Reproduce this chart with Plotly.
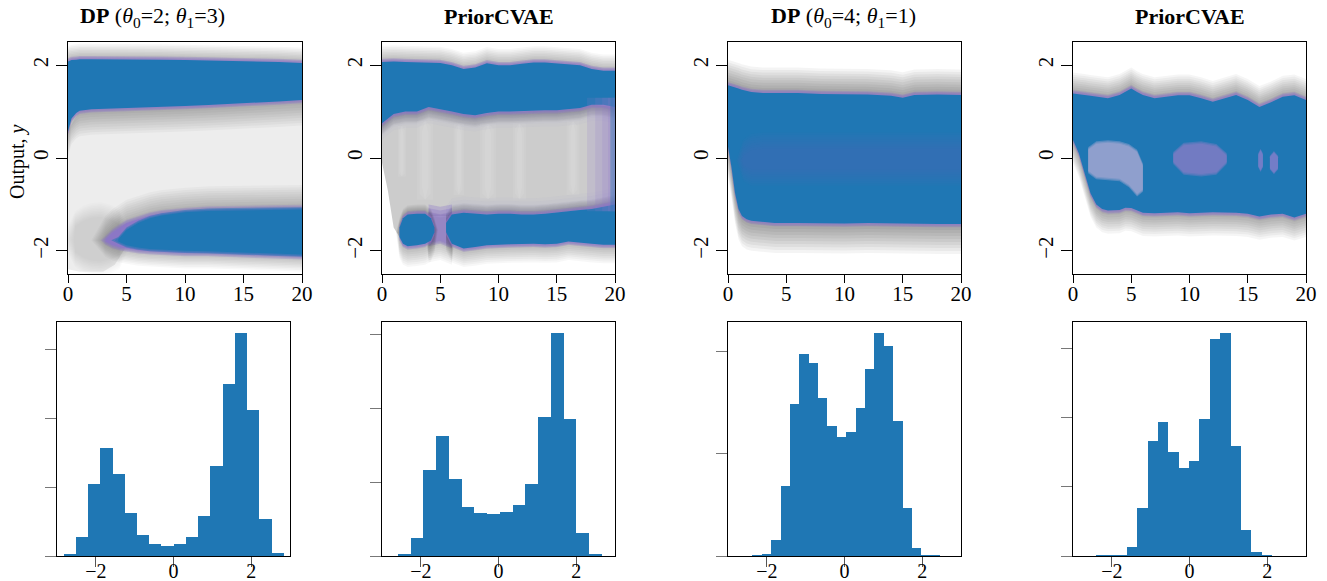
import numpy as np
import plotly.graph_objects as go

W, H = 1327, 581
OFF = 8  # the page body margin shifts the figure by this many pixels
BLUE = '#1f77b4'
FONT = 'Liberation Serif'

# ---------------- data ----------------
titles = ['<b>DP</b> (<i>θ</i><sub>0</sub>=2; <i>θ</i><sub>1</sub>=3)', '<b>PriorCVAE</b>',
          '<b>DP</b> (<i>θ</i><sub>0</sub>=4; <i>θ</i><sub>1</sub>=1)', '<b>PriorCVAE</b>']
top_xticks = [0, 5, 10, 15, 20]
top_yticks = [-2, 0, 2]
top_yticklabels = ['−2', '0', '2']
hist_xticks = [-2, 0, 2]
hist_xticklabels = ['−2', '0', '2']

# panel 1 (DP theta0=2, theta1=3)
p1_mid_x = [0, 1, 2, 3, 4, 5, 6, 8, 12, 16, 20]
p1_mid_hi = [0.6, 1.02, 1.08, 1.1, 1.1, 1.1, 1.1, 1.12, 1.15, 1.2, 1.25]
p1_mid_lo = [-2.4, -2.45, -2.45, -2.45, -2.3, -1.9, -1.5, -1.2, -1.1, -1.08, -1.08]
p1_ub_x = [0, 0.3, 0.7, 1, 2, 4, 6, 8, 10, 12, 14, 16, 18, 20]
p1_ub_hi = [2.08, 2.11, 2.12, 2.13, 2.13, 2.13, 2.13, 2.12, 2.11, 2.1, 2.1, 2.08, 2.07, 2.05]
p1_ub_lo = [0.57, 0.85, 0.97, 1.02, 1.05, 1.07, 1.08, 1.1, 1.12, 1.14, 1.16, 1.19, 1.22, 1.25]
p1_gb_x = [0.6, 1.3, 2.0, 2.8, 3.6, 4.4]
p1_gb_hi = [-1.5, -1.38, -1.32, -1.3, -1.35, -1.45]
p1_gb_lo = [-2.0, -2.12, -2.18, -2.2, -2.15, -2.05]
p1_lp_x = [3.2, 3.8, 4.5, 5, 6, 7, 8, 10, 12, 14, 16, 18, 20]
p1_lp_hi = [-1.75, -1.6, -1.48, -1.4, -1.32, -1.24, -1.19, -1.14, -1.11, -1.1, -1.09, -1.08, -1.08]
p1_lp_lo = [-1.8, -1.88, -1.93, -1.96, -1.99, -2.01, -2.03, -2.05, -2.05, -2.07, -2.08, -2.1, -2.12]
p1_lb_x = [4.3, 5, 6, 7, 8, 10, 12, 14, 16, 18, 20]
p1_lb_hi = [-1.75, -1.55, -1.4, -1.3, -1.24, -1.17, -1.14, -1.13, -1.12, -1.11, -1.11]
p1_lb_lo = [-1.8, -1.88, -1.93, -1.96, -1.98, -2.0, -2.01, -2.03, -2.04, -2.06, -2.08]

# panel 2 (PriorCVAE)
p2_mid_x = [0, 0.5, 1, 1.5, 2, 4, 6, 8, 10, 12, 14, 16, 18, 20]
p2_mid_hi = [0.75, 0.9, 0.97, 1.0, 1.0, 1.1, 1.0, 0.92, 1.0, 1.0, 1.03, 1.05, 1.15, 1.1]
p2_mid_lo = [-0.1, -0.7, -1.5, -1.7, -1.3, -1.25, -1.25, -1.2, -1.2, -1.22, -1.2, -1.15, -1.1, -1.0]
p2_streak_x = [1.7, 3.7, 6.6, 9.1, 11.8, 16.4]
p2_streak_w = [0.7, 1.4, 0.9, 1.4, 1.1, 1.1]
p2_streak_hi = [0.7, 0.8, 0.75, 0.75, 0.75, 0.8]
p2_streak_lo = [-0.4, -0.9, -0.8, -0.9, -0.9, -0.8]
p2_ub_x = [0, 1, 2, 3, 4, 5, 6, 7, 8, 9, 10, 11, 12, 13, 14, 15, 16, 17, 18, 19, 20]
p2_ub_hi = [2.07, 2.08, 2.07, 2.06, 2.06, 2.05, 2.0, 1.92, 1.95, 2.04, 2.0, 2.0, 2.03, 2.06, 2.06, 2.04, 2.02, 2.0, 1.92, 1.88, 1.88]
p2_ub_lo = [0.75, 0.95, 1.0, 1.0, 1.1, 1.05, 1.0, 0.95, 0.92, 0.97, 1.0, 1.0, 1.0, 1.02, 1.03, 1.03, 1.05, 1.08, 1.15, 1.15, 1.1]
p2_la_x = [1.5, 1.8, 2.2, 3, 3.7, 4.2, 4.5]
p2_la_hi = [-1.5, -1.3, -1.22, -1.2, -1.2, -1.3, -1.5]
p2_la_lo = [-1.7, -1.85, -1.9, -1.88, -1.85, -1.78, -1.6]
p2_gap_x = [4.0, 5.0, 6.0]
p2_gap_hi = [-1.25, -1.3, -1.25]
p2_gap_lo = [-1.8, -1.75, -1.85]
p2_lb_x = [5.5, 6, 7, 8, 9, 10, 11, 12, 13, 14, 15, 16, 17, 18, 19, 20]
p2_lb_hi = [-1.4, -1.22, -1.18, -1.2, -1.22, -1.2, -1.2, -1.22, -1.22, -1.2, -1.18, -1.15, -1.12, -1.1, -1.05, -1.0]
p2_lb_lo = [-1.6, -1.85, -1.95, -1.92, -1.88, -1.87, -1.86, -1.85, -1.85, -1.86, -1.85, -1.8, -1.82, -1.85, -1.87, -1.87]
p2_right_start = [17.6, 18.3, 18.9, 19.4, 19.8]
p2_right_hi = 1.3
p2_right_lo = -1.15

# panel 3 (DP theta0=4, theta1=1)
p3_b_x = [0, 0.3, 0.6, 0.9, 1.2, 1.6, 2, 3, 4, 6, 8, 10, 12, 14, 15, 16, 18, 20]
p3_b_hi = [1.57, 1.55, 1.52, 1.5, 1.47, 1.44, 1.42, 1.4, 1.4, 1.4, 1.38, 1.37, 1.37, 1.34, 1.3, 1.36, 1.37, 1.36]
p3_b_lo = [0.25, -0.2, -0.75, -1.1, -1.25, -1.32, -1.35, -1.38, -1.4, -1.4, -1.4, -1.41, -1.4, -1.4, -1.4, -1.41, -1.42, -1.42]
p3_mid_x = [1.3, 2, 3, 5, 8, 10, 12, 15, 18, 20]
p3_mid_hi = [0.0, 0.12, 0.15, 0.15, 0.15, 0.15, 0.15, 0.15, 0.15, 0.15]
p3_mid_lo = [-0.1, -0.2, -0.2, -0.2, -0.2, -0.2, -0.2, -0.2, -0.2, -0.2]

# panel 4 (PriorCVAE)
p4_b_x = [0, 0.5, 1, 1.5, 2, 2.5, 3, 4, 4.5, 5, 5.5, 6, 7, 8, 9, 10, 11, 12, 13, 14, 15, 16, 17, 18, 19, 20]
p4_b_hi = [1.39, 1.38, 1.36, 1.34, 1.32, 1.3, 1.29, 1.36, 1.43, 1.5, 1.42, 1.36, 1.29, 1.32, 1.35, 1.35, 1.29, 1.21, 1.28, 1.36, 1.25, 1.1, 1.2, 1.32, 1.35, 1.25]
p4_b_lo = [0.39, 0.1, -0.33, -0.76, -1.0, -1.1, -1.13, -1.12, -1.07, -1.08, -1.13, -1.18, -1.19, -1.18, -1.17, -1.19, -1.18, -1.17, -1.17, -1.18, -1.2, -1.26, -1.22, -1.2, -1.28, -1.2]
p4_ga_x = [1.3, 2, 3, 4, 4.8, 5.5, 6]
p4_ga_hi = [0.15, 0.28, 0.3, 0.28, 0.22, 0.1, -0.2]
p4_ga_lo = [-0.25, -0.38, -0.4, -0.42, -0.55, -0.75, -0.65]
p4_gb_x = [8.6, 9.5, 11, 12.3, 13.2]
p4_gb_hi = [0.05, 0.25, 0.28, 0.22, 0.02]
p4_gb_lo = [-0.05, -0.28, -0.32, -0.28, -0.05]
p4_gc_x = [15.9, 16.1, 16.3]
p4_gc_hi = [0.05, 0.15, 0.05]
p4_gc_lo = [-0.15, -0.25, -0.15]
p4_gd_x = [16.9, 17.25, 17.6]
p4_gd_hi = [0.0, 0.1, 0.0]
p4_gd_lo = [-0.2, -0.3, -0.2]

# histograms: bin range and relative heights (tick units)
h1_range = (-2.83, 2.84)
h1_counts = [0.02, 0.27, 1.05, 1.56, 1.19, 0.62, 0.30, 0.17, 0.14, 0.17, 0.27, 0.58, 1.31, 2.49, 3.23, 2.12, 0.53, 0.04]
h1_yticks = [0, 1, 2, 3]
h2_range = (-2.59, 2.66)
h2_counts = [0.018, 0.25, 1.16, 1.62, 1.04, 0.67, 0.58, 0.565, 0.59, 0.69, 0.98, 1.88, 3.02, 1.86, 0.31, 0.018]
h2_yticks = [0, 1, 2, 3]
h3_range = (-2.37, 2.46)
h3_counts = [0.007, 0.016, 0.154, 0.683, 1.493, 1.977, 1.889, 1.552, 1.278, 1.163, 1.212, 1.448, 1.830, 2.183, 2.056, 1.320, 0.467, 0.075, 0.007, 0.003]
h3_yticks = [0, 1, 2]
h4_range = (-2.406, 2.121)
h4_counts = [0.004, 0.004, 0.005, 0.125, 0.69, 1.656, 1.93, 1.497, 1.266, 1.367, 1.979, 3.13, 3.216, 1.584, 0.371, 0.053, 0.005]
h4_yticks = [0, 1, 2, 3]

# ---------------- drawing ----------------
fig = go.Figure()
PURPLE = '140,118,200'
GRAY = '0,0,0'


def ax(i):
    return ('x' if i == 1 else f'x{i}'), ('y' if i == 1 else f'y{i}')


def poly(i, x, lo, hi, color):
    xa, ya = ax(i)
    xs = list(x) + list(x)[::-1]
    ys = list(hi) + list(lo)[::-1]
    fig.add_trace(go.Scatter(x=xs, y=ys, fill='toself', fillcolor=color, mode='lines',
                             line=dict(width=0), hoverinfo='skip', showlegend=False,
                             xaxis=xa, yaxis=ya))


def soft(i, x, lo, hi, wlo, whi, rgb, a, n=10, xw=0.0):
    for k in range(n, 0, -1):
        f = k / n
        h = [v + whi * f for v in hi]
        l = [v - wlo * f for v in lo]
        xx = list(x)
        if xw > 0:
            m0 = (hi[0] + lo[0]) / 2
            m1 = (hi[-1] + lo[-1]) / 2
            xx = [x[0] - xw * f] + xx + [x[-1] + xw * f]
            h = [m0] + h + [m1]
            l = [m0] + l + [m1]
        poly(i, xx, l, h, f'rgba({rgb},{a})')


def band(i, x, lo, hi, wlo=0.4, whi=0.4, haze=0.033, fringe=0.07, plo=0.0, phi=0.0, pa=0.04, xw=0.0):
    soft(i, x, lo, hi, wlo, whi, GRAY, haze, xw=xw)
    if plo > 0 or phi > 0:
        soft(i, x, lo, hi, plo, phi, PURPLE, pa, n=5, xw=xw * 0.5)
    soft(i, x, lo, hi, fringe, fringe, PURPLE, 0.35, n=3)
    poly(i, x, lo, hi, BLUE)


# panel 1
poly(1, p1_mid_x, p1_mid_lo, p1_mid_hi, 'rgba(0,0,0,0.07)')
soft(1, p1_gb_x, p1_gb_lo, p1_gb_hi, 0.35, 0.35, GRAY, 0.012, xw=1.2)
band(1, p1_ub_x, p1_ub_lo, p1_ub_hi, wlo=0.55, whi=0.33, haze=0.03)
soft(1, p1_lp_x, p1_lp_lo, p1_lp_hi, 0.33, 0.5, GRAY, 0.028, xw=1.2)
soft(1, p1_lp_x, p1_lp_lo, p1_lp_hi, 0.07, 0.07, PURPLE, 0.3, n=3, xw=0.4)
poly(1, p1_lp_x, p1_lp_lo, p1_lp_hi, f'rgba({PURPLE},0.85)')
soft(1, p1_lb_x, p1_lb_lo, p1_lb_hi, 0.05, 0.05, '31,119,180', 0.5, n=2, xw=0.6)
poly(1, p1_lb_x, p1_lb_lo, p1_lb_hi, BLUE)

# panel 2
poly(2, p2_mid_x, p2_mid_lo, p2_mid_hi, 'rgba(0,0,0,0.2)')
for sx, sw, sh, sl in zip(p2_streak_x, p2_streak_w, p2_streak_hi, p2_streak_lo):
    for f in (1.0, 0.7, 0.4):
        poly(2, [sx - sw * f / 2, sx, sx + sw * f / 2], [sl * (0.5 + 0.5 * f), sl, sl * (0.5 + 0.5 * f)],
             [sh * (0.5 + 0.5 * f), sh, sh * (0.5 + 0.5 * f)], 'rgba(255,255,255,0.07)')
band(2, p2_ub_x, p2_ub_lo, p2_ub_hi, wlo=0.25, whi=0.35, plo=0.35, pa=0.04)
soft(2, p2_gap_x, p2_gap_lo, p2_gap_hi, 0.45, 0.1, GRAY, 0.03, xw=0.3)
soft(2, p2_gap_x, p2_gap_lo, p2_gap_hi, 0.1, 0.25, PURPLE, 0.35, n=3)
band(2, p2_la_x, p2_la_lo, p2_la_hi, wlo=0.45, whi=0.2, xw=0.3)
band(2, p2_lb_x, p2_lb_lo, p2_lb_hi, wlo=0.4, whi=0.2, phi=0.35, pa=0.04)
for s in p2_right_start:
    poly(2, [s, 20], [p2_right_lo, p2_right_lo], [p2_right_hi, p2_right_hi], f'rgba({PURPLE},0.17)')
poly(2, [19.6, 20], [p2_right_lo, p2_right_lo], [p2_right_hi, p2_right_hi], 'rgba(31,119,180,0.35)')

# panel 3
band(3, p3_b_x, p3_b_lo, p3_b_hi, wlo=0.65, whi=0.55, haze=0.042)
soft(3, p3_mid_x, p3_mid_lo, p3_mid_hi, 0.4, 0.4, PURPLE, 0.028, n=8, xw=0.6)

# panel 4
band(4, p4_b_x, p4_b_lo, p4_b_hi, wlo=0.5, whi=0.45, haze=0.04)
soft(4, p4_ga_x, p4_ga_lo, p4_ga_hi, 0.08, 0.08, '185,175,215', 0.35, n=3)
soft(4, p4_gb_x, p4_gb_lo, p4_gb_hi, 0.08, 0.08, '145,125,200', 0.35, n=3)
soft(4, p4_gc_x, p4_gc_lo, p4_gc_hi, 0.05, 0.05, '150,130,205', 0.35, n=3)
soft(4, p4_gd_x, p4_gd_lo, p4_gd_hi, 0.05, 0.05, '150,130,205', 0.35, n=3)

# histograms
hists = [(h1_range, h1_counts), (h2_range, h2_counts), (h3_range, h3_counts), (h4_range, h4_counts)]
for j, (rng, cnt) in enumerate(hists):
    edges = np.linspace(rng[0], rng[1], len(cnt) + 1)
    centers = (edges[:-1] + edges[1:]) / 2
    wdt = edges[1] - edges[0]
    xa, ya = ax(j + 5)
    fig.add_trace(go.Bar(x=centers, y=cnt, width=wdt, marker=dict(color=BLUE, line=dict(width=0)),
                         hoverinfo='skip', showlegend=False, xaxis=xa, yaxis=ya))

# ---------------- layout ----------------
top_x = [(68, 302), (382, 615), (728, 961), (1073, 1306)]
bot_x = [(57, 290), (382, 615), (728, 961), (1073, 1306)]
top_y = (42, 274)
bot_y = (322, 556)
hyt = [h1_yticks, h2_yticks, h3_yticks, h4_yticks]


def xdom(a, b):
    return [(a - OFF) / W, (b - OFF) / W]


def ydom(a, b):
    return [1 - (b - OFF) / H, 1 - (a - OFF) / H]


tickfont = dict(family=FONT, size=21, color='black')
lay = dict(width=W, height=H, margin=dict(l=0, r=0, t=0, b=0), plot_bgcolor='white',
           paper_bgcolor='white', bargap=0, showlegend=False)
for i in range(1, 9):
    top = i <= 4
    k = (i - 1) % 4
    xd = top_x[k] if top else bot_x[k]
    yd = top_y if top else bot_y
    xs = '' if i == 1 else str(i)
    common = dict(showline=True, mirror=True, linecolor='black', linewidth=1, showgrid=False,
                  zeroline=False, ticks='outside', automargin=False, layer='above traces')
    if top:
        lay[f'xaxis{xs}'] = dict(domain=xdom(*xd), anchor=f'y{xs}', range=[0, 20],
                                 tickvals=top_xticks, ticklen=8, tickcolor='black', tickfont=tickfont,
                                 ticklabelstandoff=-7, **common)
        lay[f'yaxis{xs}'] = dict(domain=ydom(*yd), anchor=f'x{xs}', range=[-2.5, 2.5],
                                 tickvals=top_yticks, ticktext=top_yticklabels, tickangle=-90,
                                 ticklen=11, tickcolor='black', tickfont=tickfont, **common)
    else:
        cnt = hists[k][1]
        lay[f'xaxis{xs}'] = dict(domain=xdom(*xd), anchor=f'y{xs}', range=[-3, 3],
                                 tickvals=hist_xticks, ticktext=hist_xticklabels, ticklen=10,
                                 tickcolor='#555', ticklabelstandoff=-13,
                                 tickfont=dict(family=FONT, size=20, color='black'), **common)
        lay[f'yaxis{xs}'] = dict(domain=ydom(*yd), anchor=f'x{xs}',
                                 range=[0, max(cnt) * 1.05], tickvals=hyt[k], showticklabels=False,
                                 ticklen=11, tickcolor='#777', **common)

title_x = [152, 499, 843, 1190]
ann = []
for k in range(4):
    ann.append(dict(x=(title_x[k] - OFF) / W, y=1 - (17 - OFF) / H, xref='paper', yref='paper',
                    text=titles[k], showarrow=False, xanchor='center', yanchor='middle',
                    font=dict(family=FONT, size=22, color='black')))
ann.append(dict(x=(18 - OFF) / W, y=1 - (162 - OFF) / H, xref='paper', yref='paper',
                text='Output, <i>y</i>', textangle=-90, showarrow=False, xanchor='center',
                yanchor='middle', font=dict(family=FONT, size=20, color='black')))
lay['annotations'] = ann
fig.update_layout(**lay)
fig.write_html('out.html')
